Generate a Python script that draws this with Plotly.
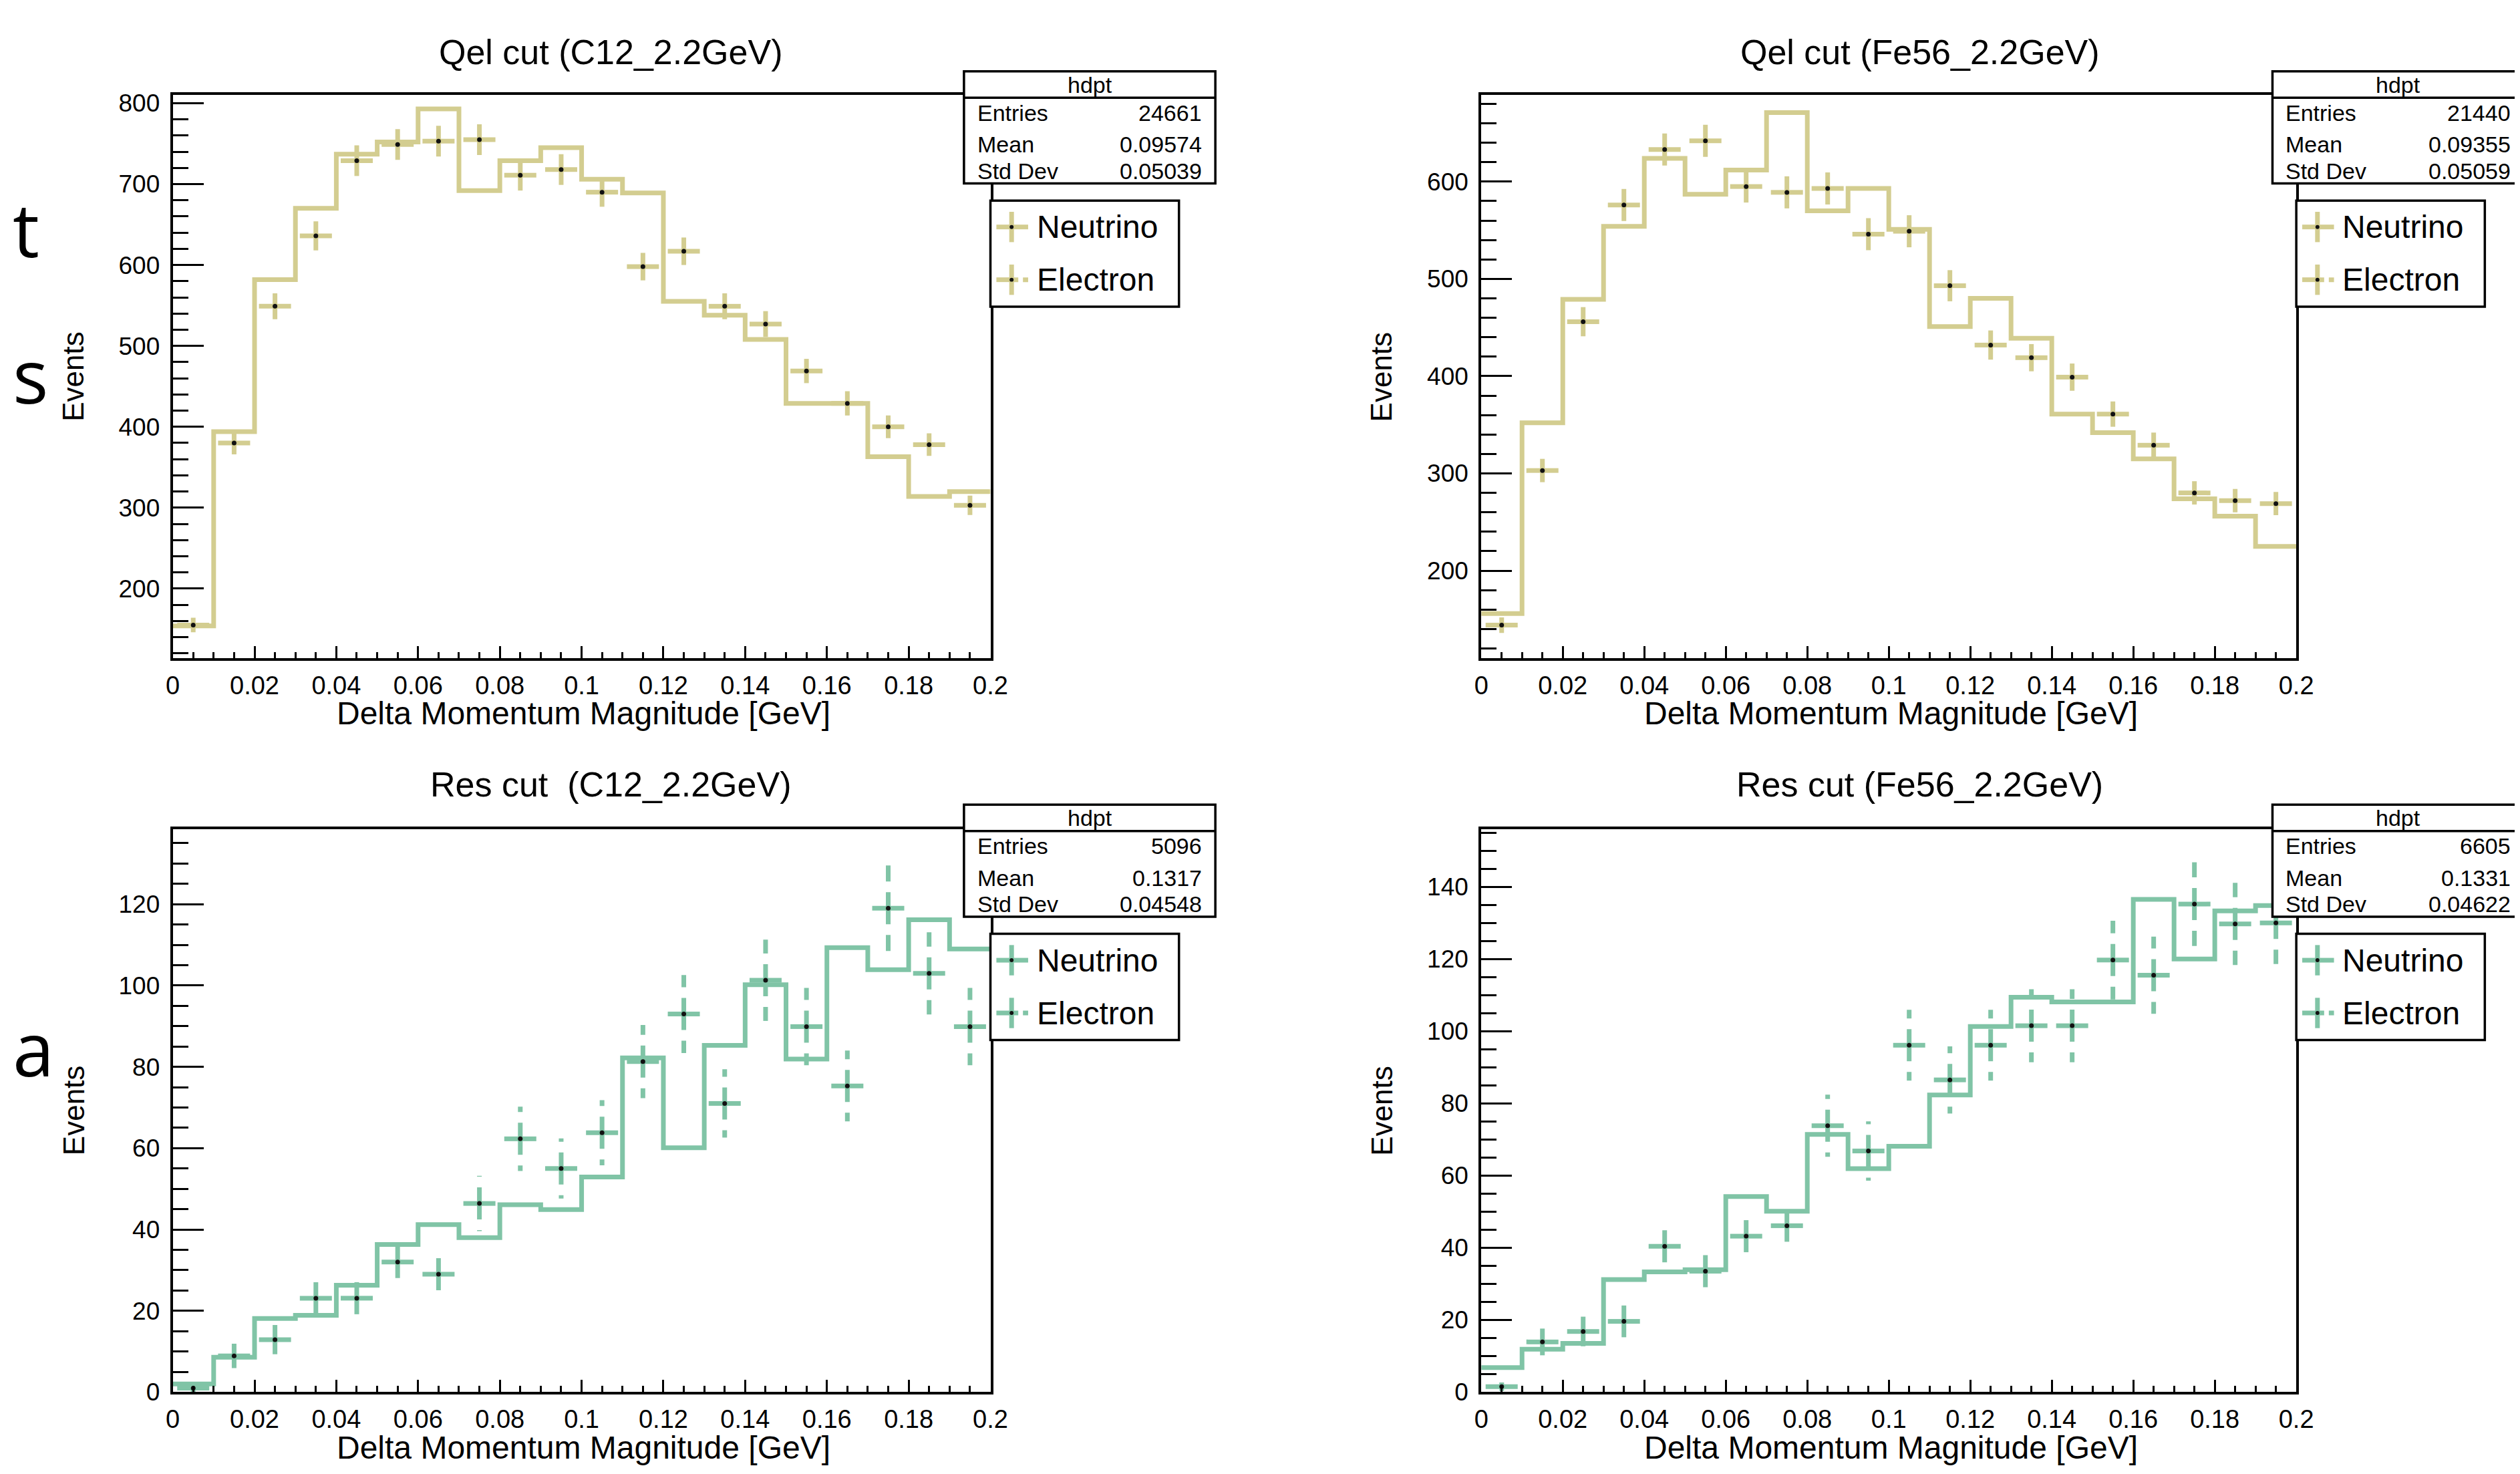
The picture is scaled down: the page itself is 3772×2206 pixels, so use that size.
import plotly.graph_objects as go

W, H = 3772, 2206

# ---------------- data ----------------
bin_edges = [0.0, 0.01, 0.02, 0.03, 0.04, 0.05, 0.06, 0.07, 0.08, 0.09, 0.10,
             0.11, 0.12, 0.13, 0.14, 0.15, 0.16, 0.17, 0.18, 0.19, 0.20]
bin_centers = [0.005, 0.015, 0.025, 0.035, 0.045, 0.055, 0.065, 0.075, 0.085, 0.095,
               0.105, 0.115, 0.125, 0.135, 0.145, 0.155, 0.165, 0.175, 0.185, 0.195]

# Qel cut, C12
nu_c12_qel = [154, 394, 582, 670, 737, 752, 793, 692, 729, 745,
              706, 689, 555, 538, 508, 429, 429, 363, 314, 320]
el_c12_qel = [155, 380, 549, 636, 729, 749, 753, 755, 711, 718,
              690, 598, 617, 549, 527, 469, 429, 400, 378, 303]
er_c12_qel = [9, 14, 16, 18, 19, 19, 19, 19, 19, 19,
              18, 17, 17, 16, 16, 15, 15, 14, 14, 12]

# Qel cut, Fe56
nu_fe_qel = [156, 352, 479, 554, 624, 587, 612, 671, 570, 593,
             551, 451, 480, 439, 361, 342, 315, 274, 256, 225]
el_fe_qel = [144, 303, 456, 576, 633, 642, 595, 589, 593, 546,
             549, 493, 432, 419, 399, 361, 329, 280, 272, 269]
er_fe_qel = [8, 12, 15, 17, 18, 18, 17, 17, 17, 17,
             17, 16, 15, 14, 14, 13, 13, 12, 12, 12]

# Res cut, C12
nu_c12_res = [2, 8.6, 18.1, 18.9, 26.3, 36.3, 41.2, 38, 46.1, 44.9,
              52.9, 82.2, 60.1, 85.3, 100.2, 81.9, 109.3, 103.9, 116.2, 109]
el_c12_res = [1, 8.9, 12.9, 23.1, 23.1, 32, 29, 46.4, 62.3, 55,
              63.8, 81.3, 93, 71, 101.3, 89.9, 75.3, 119, 103, 89.9]
er_c12_res = [1, 3, 3.6, 4.8, 4.8, 5.7, 5.4, 6.8, 7.9, 7.4,
              8, 9, 9.6, 8.4, 10, 9.5, 8.7, 10.9, 10.1, 9.5]

# Res cut, Fe56
nu_fe_res = [6.8, 11.9, 13.5, 31.2, 33.3, 33.9, 54.2, 50.1, 71.4, 61.9,
             68.1, 82.3, 101.3, 109.4, 108.1, 108.1, 136.5, 120, 133.3, 134.8]
el_fe_res = [1.5, 13.9, 16.8, 19.6, 40.4, 33.5, 43.2, 46.1, 73.8, 66.8,
             96.1, 86.5, 96.1, 101.5, 101.5, 119.7, 115.5, 135.2, 129.7, 130]
er_fe_res = [1.2, 3.7, 4.1, 4.4, 6.4, 5.8, 6.6, 6.8, 8.6, 8.2,
             9.8, 9.3, 9.8, 10.1, 10.1, 10.9, 10.7, 11.6, 11.4, 11.4]

titles = ["Qel cut (C12_2.2GeV)", "Qel cut (Fe56_2.2GeV)",
          "Res cut  (C12_2.2GeV)", "Res cut (Fe56_2.2GeV)"]
stat_entries = ["24661", "21440", "5096", "6605"]
stat_means = ["0.09574", "0.09355", "0.1317", "0.1331"]
stat_stds = ["0.05039", "0.05059", "0.04548", "0.04622"]
y_ranges = [[114, 810], [110, 689], [0, 138.5], [0, 156]]
y_dticks = [100, 100, 20, 20]
y_minor = [20, 20, 5, 5]

KHAKI = "#D3CD90"
GREEN = "#80C4A6"
FONT = "Liberation Sans, Arial, sans-serif"

panels = [
    dict(nu=nu_c12_qel, el=el_c12_qel, er=er_c12_qel, col=KHAKI),
    dict(nu=nu_fe_qel, el=el_fe_qel, er=er_fe_qel, col=KHAKI),
    dict(nu=nu_c12_res, el=el_c12_res, er=er_c12_res, col=GREEN),
    dict(nu=nu_fe_res, el=el_fe_res, er=er_fe_res, col=GREEN),
]

# pixel geometry of the frames (left, top, right, bottom)
frames = [(242, 128, 1478, 982), (2220, 128, 3452, 982),
          (242, 1241, 1478, 2095), (2220, 1241, 3452, 2095)]


def px(x):
    return x / W


def py(y):
    return 1 - y / H


fig = go.Figure()
shapes = []
annotations = []

HALF_X = 0.004
DASH = "24px,16px"

for i, p in enumerate(panels):
    ax = "" if i == 0 else str(i + 1)
    xa, ya = "x" + ax, "y" + ax
    col = p["col"]
    # neutrino histogram (step)
    fig.add_trace(go.Scatter(
        x=bin_edges, y=list(p["nu"]) + [p["nu"][-1]], mode="lines",
        line=dict(shape="hv", color=col, width=7), xaxis=xa, yaxis=ya,
        name="Neutrino", hoverinfo="skip"))
    # electron error bars (drawn from the marker outward)
    xs, ys = [], []
    for xc, v, e in zip(bin_centers, p["el"], p["er"]):
        xs += [xc, xc, None, xc, xc, None, xc, xc - HALF_X, None, xc, xc + HALF_X, None]
        ys += [v, v + e, None, v, v - e, None, v, v, None, v, v, None]
    fig.add_trace(go.Scatter(
        x=xs, y=ys, mode="lines", line=dict(color=col, width=7, dash=DASH),
        xaxis=xa, yaxis=ya, name="Electron", hoverinfo="skip", connectgaps=False))
    fig.add_trace(go.Scatter(
        x=bin_centers, y=p["el"], mode="markers",
        marker=dict(size=7, color="#111111"), xaxis=xa, yaxis=ya,
        name="Electron", hoverinfo="skip"))

    L, T, R, B = frames[i]
    fig.layout["xaxis" + ax] = dict(
        domain=[px(L), px(R)], range=[0, 0.2], anchor=ya,
        tick0=0, dtick=0.02, ticks="inside", ticklen=18, tickwidth=3,
        tickcolor="black", minor=dict(dtick=0.005, ticks="inside", ticklen=9,
                                      tickwidth=3, tickcolor="black"),
        showline=True, linewidth=4, linecolor="black", mirror=True,
        showgrid=False, zeroline=False,
        tickfont=dict(family=FONT, size=38, color="black"),
        ticklabelstandoff=4)
    fig.layout["yaxis" + ax] = dict(
        domain=[py(B), py(T)], range=y_ranges[i], anchor=xa,
        tick0=0, dtick=y_dticks[i], ticks="inside", ticklen=46, tickwidth=3,
        tickcolor="black", minor=dict(dtick=y_minor[i], ticks="inside",
                                      ticklen=23, tickwidth=3, tickcolor="black"),
        showline=True, linewidth=4, linecolor="black", mirror=True,
        showgrid=False, zeroline=False,
        tickfont=dict(family=FONT, size=37, color="black"),
        ticklabelstandoff=8)

    # title
    tx = 904 if i % 2 == 0 else 2883
    ty = 63 if i < 2 else 1173
    annotations.append(dict(text=titles[i], x=px(tx), y=py(ty), xref="paper", yref="paper",
                            showarrow=False, xanchor="center", yanchor="middle",
                            font=dict(family=FONT, size=52, color="black")))
    # axis titles
    annotations.append(dict(text="Delta Momentum Magnitude [GeV]", x=px((L + R) / 2 + 3),
                            y=py(B + 84), xref="paper", yref="paper", showarrow=False,
                            xanchor="center", yanchor="middle",
                            font=dict(family=FONT, size=48, color="black")))
    ex = 92 if i % 2 == 0 else 2069
    annotations.append(dict(text="Events", x=px(ex), y=py((T + B) / 2), xref="paper",
                            yref="paper", showarrow=False, textangle=-90,
                            xanchor="center", yanchor="middle",
                            font=dict(family=FONT, size=44, color="black")))

    # stat box
    sL = 1438 if i % 2 == 0 else 3416
    sR = sL + 380
    sT = 92 if i < 2 else 1204
    sB = sT + 170
    shapes.append(dict(type="rect", xref="paper", yref="paper", x0=px(sL), x1=px(sR),
                       y0=py(sB), y1=py(sT), fillcolor="white",
                       line=dict(color="black", width=3.5), layer="above"))
    shapes.append(dict(type="line", xref="paper", yref="paper", x0=px(sL), x1=px(sR),
                       y0=py(sT + 40), y1=py(sT + 40),
                       line=dict(color="black", width=3.5), layer="above"))
    annotations.append(dict(text="hdpt", x=px((sL + sR) / 2), y=py(sT + 20), xref="paper",
                            yref="paper", showarrow=False, xanchor="center", yanchor="middle",
                            font=dict(family=FONT, size=34, color="black")))
    for lab, val, dy in [("Entries", stat_entries[i], 63), ("Mean", stat_means[i], 111),
                         ("Std Dev", stat_stds[i], 151)]:
        annotations.append(dict(text=lab, x=px(sL + 18), y=py(sT + dy), xref="paper",
                                yref="paper", showarrow=False, xanchor="left",
                                yanchor="middle",
                                font=dict(family=FONT, size=34, color="black")))
        annotations.append(dict(text=val, x=px(sR - 18), y=py(sT + dy), xref="paper",
                                yref="paper", showarrow=False, xanchor="right",
                                yanchor="middle",
                                font=dict(family=FONT, size=34, color="black")))

    # legend box
    lL = R
    lR = lL + 285
    lT = 288 if i < 2 else 1400
    lB = lT + 161
    shapes.append(dict(type="rect", xref="paper", yref="paper", x0=px(lL), x1=px(lR),
                       y0=py(lB), y1=py(lT), fillcolor="white",
                       line=dict(color="black", width=3.5), layer="above"))
    for k, (lab, dashed) in enumerate([("Neutrino", False), ("Electron", True)]):
        cy = lT + 40 + 80 * k
        cx = lL + 32
        dsh = "10px,7px" if dashed else "solid"
        for (x0, y0, x1, y1) in [(cx, cy, cx - 23, cy), (cx, cy, cx + 25, cy),
                                 (cx, cy, cx, cy - 23), (cx, cy, cx, cy + 23)]:
            shapes.append(dict(type="line", xref="paper", yref="paper",
                               x0=px(x0), y0=py(y0), x1=px(x1), y1=py(y1),
                               line=dict(color=col, width=7,
                                         dash=dsh if x1 > cx else "solid"),
                               layer="above"))
        shapes.append(dict(type="circle", xref="paper", yref="paper",
                           x0=px(cx - 3), x1=px(cx + 3), y0=py(cy + 3), y1=py(cy - 3),
                           fillcolor="#111111", line=dict(width=0), layer="above"))
        annotations.append(dict(text=lab, x=px(lL + 68), y=py(cy), xref="paper",
                                yref="paper", showarrow=False, xanchor="left",
                                yanchor="middle",
                                font=dict(family=FONT, size=48, color="black")))

# fragments of slide text at the left edge
for ch, xl, yc in [("t", -2, 330), ("s", -2, 552), ("a", -2, 1572)]:
    annotations.append(dict(text=ch, x=px(xl), y=py(yc), xref="paper", yref="paper",
                            showarrow=False, xanchor="left", yanchor="middle",
                            font=dict(family="Open Sans, sans-serif", size=112,
                                      color="black")))

fig.update_layout(width=W, height=H, margin=dict(l=0, r=0, t=0, b=0),
                  paper_bgcolor="white", plot_bgcolor="white", showlegend=False,
                  shapes=shapes, annotations=annotations)

fig.write_html("out.html")
